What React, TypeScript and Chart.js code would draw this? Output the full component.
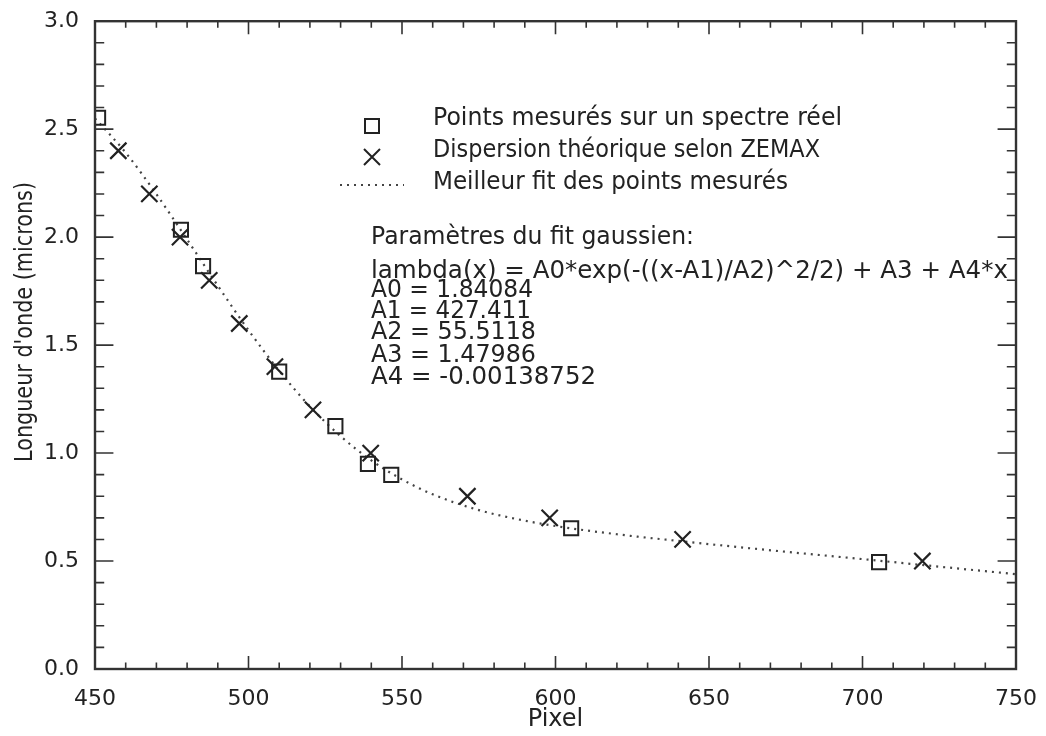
import { useEffect, useRef } from 'react';
import { Chart, registerables } from 'chart.js';

Chart.register(...registerables);

// Points measured on a real spectrum (pixel, wavelength in microns)
const measuredX = [451, 478, 485.2, 510, 528.3, 538.9, 546.5, 605.1, 705.4];
const measuredY = [2.553, 2.034, 1.866, 1.377, 1.125, 0.95, 0.899, 0.652, 0.495];

// Theoretical dispersion from ZEMAX
const zemaxX = [457.6, 467.7, 477.7, 487.2, 497.0, 508.6, 521.0, 539.8, 571.3, 598.1, 641.4, 719.5];
const zemaxY = [2.4, 2.2, 2.0, 1.8, 1.6, 1.4, 1.2, 1.0, 0.8, 0.7, 0.6, 0.5];

// Best gaussian fit of the measured points, sampled along the pixel axis
const fitX = [450, 460, 470, 480, 490, 500, 510, 520, 530, 540, 550, 560, 575, 590, 600, 620, 640, 660, 680, 700, 720, 740, 750];
const fitY = [2.550, 2.391, 2.199, 1.989, 1.775, 1.569, 1.381, 1.216, 1.078, 0.966, 0.878, 0.809, 0.736, 0.687, 0.662, 0.624, 0.593, 0.564, 0.536, 0.509, 0.481, 0.453, 0.439];

// Axis ranges and tick spacing
const xRange = [450, 750];
const xMajorStep = 50;
const xMinorStep = 10;
const yRange = [0, 3];
const yMajorStep = 0.5;
const yMinorStep = 0.1;

const xTitle = 'Pixel';
const yTitle = "Longueur d'onde (microns)";

const legendLabels = [
  'Points mesurés sur un spectre réel',
  'Dispersion théorique selon ZEMAX',
  'Meilleur fit des points mesurés',
];

const fitParamLines = [
  'Paramètres du fit gaussien:',
  'lambda(x) = A0*exp(-((x-A1)/A2)^2/2) + A3 + A4*x',
  'A0 = 1.84084',
  'A1 = 427.411',
  'A2 = 55.5118',
  'A3 = 1.47986',
  'A4 = -0.00138752',
];

const INK = '#222';
const FONT = '"DejaVu Sans", "Liberation Sans", sans-serif';

// Draws left-aligned text squeezed or stretched to a given run length
function fitText(ctx: CanvasRenderingContext2D, text: string, x: number, y: number, width: number) {
  ctx.save();
  ctx.translate(x, y);
  const m = ctx.measureText(text).width;
  ctx.scale(width / m, 1);
  ctx.fillText(text, 0, 0);
  ctx.restore();
}

// Closed box with inward major/minor ticks on all four sides
const framePlugin = {
  id: 'idlFrame',
  afterDatasetsDraw(chart: any) {
    const { ctx, chartArea, scales } = chart;
    const { left, right, top, bottom } = chartArea;
    const xs = scales.x;
    const ys = scales.y;
    const w = right - left;
    const h = bottom - top;
    const xTick = h * 0.02;
    const yTick = w * 0.02;
    ctx.save();
    ctx.strokeStyle = '#333';
    ctx.lineWidth = 1.6;
    ctx.beginPath();
    const nx = Math.round((xRange[1] - xRange[0]) / xMinorStep);
    for (let i = 0; i <= nx; i++) {
      const v = xRange[0] + i * xMinorStep;
      const px = xs.getPixelForValue(v);
      const major = i % Math.round(xMajorStep / xMinorStep) === 0;
      const len = major ? xTick : xTick / 2;
      ctx.moveTo(px, bottom);
      ctx.lineTo(px, bottom - len);
      ctx.moveTo(px, top);
      ctx.lineTo(px, top + len);
    }
    const ny = Math.round((yRange[1] - yRange[0]) / yMinorStep);
    for (let i = 0; i <= ny; i++) {
      const v = yRange[0] + i * yMinorStep;
      const py = ys.getPixelForValue(v);
      const major = i % Math.round(yMajorStep / yMinorStep) === 0;
      const len = major ? yTick : yTick / 2;
      ctx.moveTo(left, py);
      ctx.lineTo(left + len, py);
      ctx.moveTo(right, py);
      ctx.lineTo(right - len, py);
    }
    ctx.stroke();
    ctx.lineWidth = 2.4;
    ctx.strokeRect(left, top, w, h);
    ctx.restore();
  },
};

const annotationPlugin = {
  id: 'annotations',
  afterDraw(chart: any) {
    const { ctx, chartArea } = chart;
    ctx.save();
    ctx.fillStyle = INK;
    ctx.strokeStyle = INK;
    ctx.font = `24px ${FONT}`;
    ctx.textBaseline = 'middle';
    ctx.textAlign = 'left';

    // legend symbols
    ctx.lineWidth = 2;
    ctx.strokeRect(365, 119, 14, 14);
    ctx.beginPath();
    ctx.moveTo(364, 149);
    ctx.lineTo(380, 165);
    ctx.moveTo(380, 149);
    ctx.lineTo(364, 165);
    ctx.stroke();
    ctx.save();
    ctx.strokeStyle = '#444';
    ctx.lineWidth = 2.2;
    ctx.setLineDash([2, 5]);
    ctx.beginPath();
    ctx.moveTo(340, 185);
    ctx.lineTo(404, 185);
    ctx.stroke();
    ctx.restore();

    // legend labels
    const legendY = [119, 151, 183];
    const legendW = [409, 387, 355];
    legendLabels.forEach((t, i) => fitText(ctx, t, 433, legendY[i], legendW[i]));

    // fit parameters
    const paramY = [238, 272, 291, 312, 333, 356, 378];
    const paramW = [323, 637, 162, 160, 165, 165, 225];
    fitParamLines.forEach((t, i) => fitText(ctx, t, 371, paramY[i], paramW[i]));

    // axis titles
    ctx.textAlign = 'center';
    ctx.fillText(xTitle, (chartArea.left + chartArea.right) / 2, 720);
    ctx.font = `25px ${FONT}`;
    ctx.save();
    ctx.translate(25, 322);
    ctx.rotate(-Math.PI / 2);
    const m = ctx.measureText(yTitle).width;
    ctx.scale(280 / m, 1);
    ctx.fillText(yTitle, 0, 0);
    ctx.restore();
    ctx.restore();
  },
};

export default function App() {
  const canvasRef = useRef<HTMLCanvasElement | null>(null);

  useEffect(() => {
    const canvas = canvasRef.current;
    if (!canvas) return;
    const toPoints = (xs: number[], ys: number[]) => xs.map((x, i) => ({ x, y: ys[i] }));
    const chart = new Chart(canvas, {
      type: 'scatter',
      data: {
        datasets: [
          {
            label: legendLabels[2],
            data: toPoints(fitX, fitY),
            showLine: true,
            borderColor: '#444',
            borderWidth: 2.2,
            borderDash: [2, 5],
            pointRadius: 0,
            cubicInterpolationMode: 'monotone',
            order: 3,
          },
          {
            label: legendLabels[0],
            data: toPoints(measuredX, measuredY),
            pointStyle: 'rect',
            pointRadius: 10,
            borderColor: INK,
            borderWidth: 2,
            backgroundColor: 'rgba(0,0,0,0)',
            order: 1,
          },
          {
            label: legendLabels[1],
            data: toPoints(zemaxX, zemaxY),
            pointStyle: 'crossRot',
            pointRadius: 11.5,
            borderColor: INK,
            borderWidth: 2.2,
            order: 2,
          },
        ],
      } as any,
      options: {
        animation: false,
        responsive: false,
        devicePixelRatio: 1,
        layout: { padding: { top: 14, right: 29, left: 0, bottom: 0 } },
        plugins: {
          legend: { display: false },
          tooltip: { enabled: false },
        },
        scales: {
          x: {
            type: 'linear',
            min: xRange[0],
            max: xRange[1],
            grid: { display: false },
            border: { display: false },
            ticks: {
              stepSize: xMajorStep,
              color: INK,
              padding: 9,
              font: { family: FONT, size: 22 },
              maxRotation: 0,
            },
            afterFit: (s: any) => { s.height = 67; },
          },
          y: {
            type: 'linear',
            min: yRange[0],
            max: yRange[1],
            grid: { display: false },
            border: { display: false },
            ticks: {
              stepSize: yMajorStep,
              color: INK,
              padding: 8,
              font: { family: FONT, size: 22 },
              callback: (v: any) => Number(v).toFixed(1),
            },
            afterFit: (s: any) => { s.width = 95; },
          },
        },
      } as any,
      plugins: [framePlugin, annotationPlugin],
    });
    return () => chart.destroy();
  }, []);

  return (
    <div style={{ position: 'absolute', left: 0, top: 0, width: 1046, height: 736, background: '#fff' }}>
      <canvas ref={canvasRef} width={1046} height={736} />
    </div>
  );
}
